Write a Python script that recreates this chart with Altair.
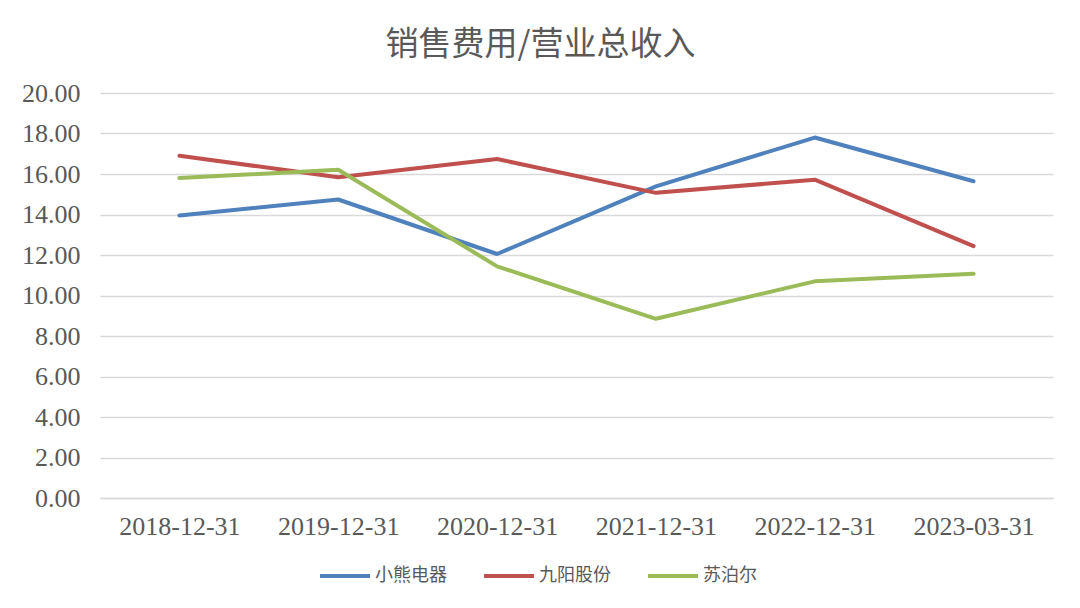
import altair as alt
import pandas as pd

dates = ["2018-12-31", "2019-12-31", "2020-12-31", "2021-12-31", "2022-12-31", "2023-03-31"]
series_names = ["小熊电器", "九阳股份", "苏泊尔"]
xiaoxiong = [13.95, 14.74, 12.05, 15.39, 17.80, 15.64]
jiuyang = [16.90, 15.84, 16.74, 15.07, 15.72, 12.44]
supor = [15.80, 16.21, 11.44, 8.85, 10.70, 11.07]
y_ticks = [0, 2, 4, 6, 8, 10, 12, 14, 16, 18, 20]
colors = ["#4F81BD", "#C0504D", "#9BBB59"]

rows = []
for name, vals in zip(series_names, [xiaoxiong, jiuyang, supor]):
    for d, v in zip(dates, vals):
        rows.append({"date": d, "series": name, "value": v})
df = pd.DataFrame(rows)

label_color = "#595959"
grid_color = "#D9D9D9"

chart = alt.Chart(df).mark_line(strokeWidth=4, strokeCap="round", strokeJoin="round").encode(
    x=alt.X("date:O", sort=dates, title=None,
            scale=alt.Scale(type="point", padding=0.5),
            axis=alt.Axis(labelAngle=0, ticks=False, domain=True, domainColor=grid_color,
                          domainWidth=1.5, labelFont="Liberation Serif", labelFontSize=26,
                          labelColor=label_color, labelPadding=15, grid=False)),
    y=alt.Y("value:Q", title=None,
            scale=alt.Scale(domain=[0, 20], nice=False),
            axis=alt.Axis(values=y_ticks, format=".2f", ticks=False, domain=False,
                          grid=True, gridColor=grid_color, gridWidth=1.5,
                          labelFont="Liberation Serif", labelFontSize=26,
                          labelColor=label_color, labelPadding=20)),
    color=alt.Color("series:N", sort=series_names,
                    scale=alt.Scale(domain=series_names, range=colors),
                    legend=alt.Legend(title=None, orient="none", direction="horizontal",
                                      legendX=218, legendY=456, padding=0,
                                      symbolType="stroke", symbolSize=2500,
                                      symbolStrokeWidth=4, labelOffset=3,
                                      columnPadding=29,
                                      labelFont="Noto Sans CJK SC", labelFontSize=18,
                                      labelColor=label_color)),
).properties(
    width=953,
    height=405,
    padding={"left": 92, "top": 85, "right": 19, "bottom": 102},
    autosize=alt.AutoSizeParams(type="none"),
    title=alt.TitleParams(text="销售费用/营业总收入", font="Noto Sans CJK SC", fontSize=33,
                          fontWeight="normal", color=label_color, anchor="middle",
                          dx=-36, offset=18),
).configure_view(stroke=None)

chart.save("out.html", embed_options={"renderer": "svg", "actions": False})
